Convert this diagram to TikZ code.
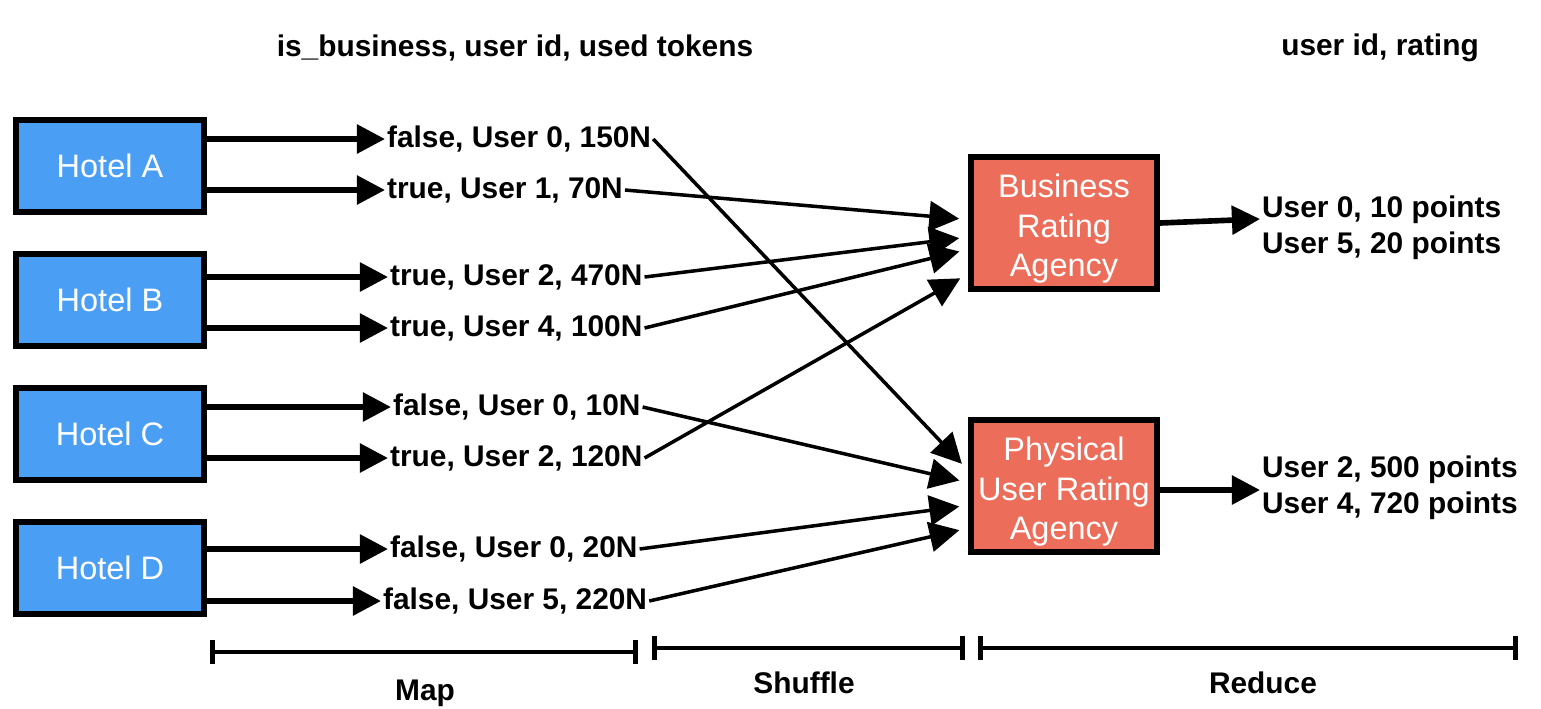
\documentclass[tikz,border=0pt]{standalone}
\usepackage{fontspec}
\setmainfont{Liberation Sans}
\usetikzlibrary{arrows.meta}
\definecolor{hotelblue}{RGB}{74,159,245}
\definecolor{agencyred}{RGB}{236,110,90}
\newcommand{\tallstrut}{\rule{0pt}{20pt}}

\begin{document}
\begin{tikzpicture}[x=0.02cm, y=-0.02cm,
  every node/.style={font=\fontsize{17}{20}\selectfont\bfseries},
  hotel/.style={draw, line width=3.5pt, fill=hotelblue, text=white, minimum width=3.76cm, minimum height=1.84cm, font=\fontsize{18.5}{22}\selectfont},
  agency/.style={draw, line width=3.5pt, fill=agencyred, text=white, align=center, minimum width=3.72cm, minimum height=2.54cm, font=\fontsize{18.5}{22.5}\selectfont},
  tok/.style={anchor=west, inner sep=1pt},
  result/.style={anchor=west, align=left, inner sep=1pt, font=\fontsize{17}{20.5}\selectfont\bfseries},
  feed/.style={-{Triangle[length=16pt,width=16pt]}, line width=3.2pt},
  shuf/.style={-{Triangle[length=17pt,width=17pt]}, line width=2pt, shorten >=5pt},
  span/.style={{Bar[width=14pt]}-{Bar[width=14pt]}, line width=2.8pt}]
  \useasboundingbox (0,0) rectangle (1541,708);

  % Headers
  \node (hdmap) at (515,48) {is\_business, user id, used tokens};
  \node (hdred) at (1380,48) {user id, rating};

  % Hotels
  \node[hotel] (hA) at (110,166) {Hotel A};
  \node[hotel] (hB) at (110,300) {Hotel B};
  \node[hotel] (hC) at (110,434) {Hotel C};
  \node[hotel] (hD) at (110,568) {Hotel D};

  % Mapped tokens
  \node[tok] (tA1) at (385,139) {false, User 0, 150N};
  \node[tok] (tA2) at (385,190) {true, User 1, 70N};
  \node[tok] (tB1) at (388,277) {true, User 2, 470N};
  \node[tok] (tB2) at (388,328) {true, User 4, 100N};
  \node[tok] (tC1) at (391,407) {false, User 0, 10N};
  \node[tok] (tC2) at (388,458) {true, User 2, 120N};
  \node[tok] (tD1) at (388,549) {false, User 0, 20N};
  \node[tok] (tD2) at (381,601) {false, User 5, 220N};

  \foreach \h/\t in {hA/tA1, hA/tA2, hB/tB1, hB/tB2, hC/tC1, hC/tC2, hD/tD1, hD/tD2}
    \draw[feed] (\h.east |- \t.west) -- (\t.west);

  % Agencies
  \node[agency] (bus) at (1064,223) {\tallstrut Business\\Rating\\Agency};
  \node[agency] (phy) at (1064,486) {\tallstrut Physical\\User Rating\\Agency};

  % Shuffle
  \draw[shuf] (tA2.east) -- ([yshift=2pt]bus.west);
  \draw[shuf] (tB1.east) -- ([yshift=-8pt]bus.west);
  \draw[shuf] (tB2.east) -- ([yshift=-15pt]bus.west);
  \draw[shuf] (tC2.east) -- ([yshift=-29pt]bus.west);
  \draw[shuf] (tA1.east) -- ([yshift=9pt]phy.west);
  \draw[shuf] (tC1.east) -- ([yshift=2pt]phy.west);
  \draw[shuf] (tD1.east) -- ([yshift=-11pt]phy.west);
  \draw[shuf] (tD2.east) -- ([yshift=-24pt]phy.west);

  % Ratings
  \node[result] (rB) at (1260,228) {User 0, 10 points\\User 5, 20 points};
  \node[result] (rP) at (1260,488) {User 2, 500 points\\User 4, 720 points};
  \draw[feed] (bus.east) -- (rB.west |- 0,219);
  \draw[feed] (phy.east |- 0,490) -- (rP.west |- 0,490);

  % Phases
  \draw[span] (210,652) -- (638,652);
  \draw[span] (652,648) -- (965,648);
  \draw[span] (978,648) -- (1518,648);
  \node (lmap) at (425,693) {Map};
  \node (lshuf) at (804,683) {Shuffle};
  \node (lred) at (1263,683) {Reduce};
\end{tikzpicture}
\end{document}
